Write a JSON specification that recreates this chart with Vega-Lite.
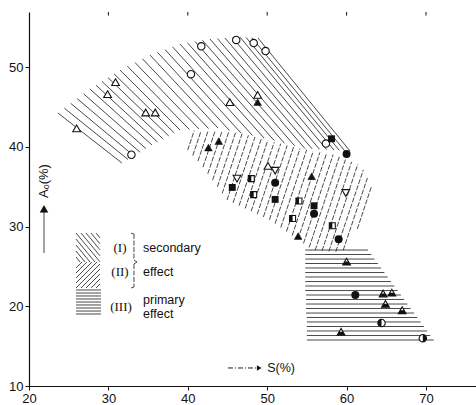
{
  "$schema": "https://vega.github.io/schema/vega-lite/v6.json",
  "width": 447,
  "height": 374,
  "autosize": {"type": "none"},
  "padding": {"left": 29, "top": 12, "right": 0, "bottom": 19},
  "background": "white",
  "config": {
    "view": {"stroke": null},
    "axis": {"grid": false, "domainColor": "#111", "tickColor": "#111", "labelColor": "#111", "labelFont": "Liberation Sans", "labelFontSize": 13}
  },
  "datasets": {
    "seg": [
      {"g": "I", "x1": 23.65, "y1": 44.23, "x2": 31.71, "y2": 37.96},
      {"g": "I", "x1": 24.46, "y1": 44.83, "x2": 32.47, "y2": 38.41},
      {"g": "I", "x1": 25.26, "y1": 45.44, "x2": 33.22, "y2": 38.86},
      {"g": "I", "x1": 26.07, "y1": 46.04, "x2": 33.98, "y2": 39.32},
      {"g": "I", "x1": 26.88, "y1": 46.64, "x2": 34.73, "y2": 39.77},
      {"g": "I", "x1": 27.68, "y1": 47.24, "x2": 35.49, "y2": 40.22},
      {"g": "I", "x1": 28.44, "y1": 47.72, "x2": 36.20, "y2": 40.59},
      {"g": "I", "x1": 29.19, "y1": 48.19, "x2": 36.90, "y2": 40.97},
      {"g": "I", "x1": 29.95, "y1": 48.67, "x2": 37.61, "y2": 41.35},
      {"g": "I", "x1": 30.70, "y1": 49.15, "x2": 38.31, "y2": 41.72},
      {"g": "I", "x1": 31.46, "y1": 49.62, "x2": 39.02, "y2": 42.10},
      {"g": "I", "x1": 32.41, "y1": 50.09, "x2": 40.21, "y2": 42.16},
      {"g": "I", "x1": 33.35, "y1": 50.56, "x2": 41.41, "y2": 42.23},
      {"g": "I", "x1": 34.29, "y1": 51.03, "x2": 42.61, "y2": 42.29},
      {"g": "I", "x1": 35.24, "y1": 51.50, "x2": 43.80, "y2": 42.35},
      {"g": "I", "x1": 36.18, "y1": 51.85, "x2": 45.25, "y2": 42.04},
      {"g": "I", "x1": 37.13, "y1": 52.19, "x2": 46.70, "y2": 41.72},
      {"g": "I", "x1": 38.07, "y1": 52.54, "x2": 48.15, "y2": 41.41},
      {"g": "I", "x1": 39.02, "y1": 52.88, "x2": 49.60, "y2": 41.10},
      {"g": "I", "x1": 39.96, "y1": 53.04, "x2": 50.89, "y2": 40.77},
      {"g": "I", "x1": 40.91, "y1": 53.20, "x2": 52.18, "y2": 40.44},
      {"g": "I", "x1": 41.85, "y1": 53.35, "x2": 53.47, "y2": 40.11},
      {"g": "I", "x1": 42.80, "y1": 53.51, "x2": 54.76, "y2": 39.78},
      {"g": "I", "x1": 43.74, "y1": 53.57, "x2": 55.67, "y2": 39.73},
      {"g": "I", "x1": 44.68, "y1": 53.64, "x2": 56.59, "y2": 39.69},
      {"g": "I", "x1": 45.63, "y1": 53.70, "x2": 57.50, "y2": 39.64},
      {"g": "I", "x1": 46.57, "y1": 53.76, "x2": 58.41, "y2": 39.59},
      {"g": "I", "x1": 47.33, "y1": 53.72, "x2": 59.08, "y2": 39.55},
      {"g": "I", "x1": 48.08, "y1": 53.67, "x2": 59.76, "y2": 39.50},
      {"g": "I", "x1": 48.84, "y1": 53.64, "x2": 60.43, "y2": 39.47},
      {"g": "II", "x1": 39.99, "y1": 39.59, "x2": 40.81, "y2": 42.02},
      {"g": "II", "x1": 40.63, "y1": 38.90, "x2": 41.67, "y2": 41.97},
      {"g": "II", "x1": 41.28, "y1": 38.21, "x2": 42.54, "y2": 41.94},
      {"g": "II", "x1": 41.91, "y1": 37.45, "x2": 43.41, "y2": 41.89},
      {"g": "II", "x1": 42.52, "y1": 36.62, "x2": 44.28, "y2": 41.84},
      {"g": "II", "x1": 43.12, "y1": 35.81, "x2": 45.14, "y2": 41.80},
      {"g": "II", "x1": 43.73, "y1": 34.98, "x2": 46.01, "y2": 41.75},
      {"g": "II", "x1": 44.33, "y1": 34.15, "x2": 46.84, "y2": 41.65},
      {"g": "II", "x1": 44.94, "y1": 33.32, "x2": 47.64, "y2": 41.45},
      {"g": "II", "x1": 45.70, "y1": 32.97, "x2": 48.46, "y2": 41.23},
      {"g": "II", "x1": 46.46, "y1": 32.62, "x2": 49.27, "y2": 41.02},
      {"g": "II", "x1": 47.23, "y1": 32.26, "x2": 50.07, "y2": 40.81},
      {"g": "II", "x1": 47.98, "y1": 31.91, "x2": 50.89, "y2": 40.58},
      {"g": "II", "x1": 48.75, "y1": 31.55, "x2": 51.70, "y2": 40.38},
      {"g": "II", "x1": 49.52, "y1": 31.20, "x2": 52.52, "y2": 40.17},
      {"g": "II", "x1": 50.28, "y1": 30.85, "x2": 53.32, "y2": 39.96},
      {"g": "II", "x1": 50.99, "y1": 30.36, "x2": 54.14, "y2": 39.77},
      {"g": "II", "x1": 51.71, "y1": 29.87, "x2": 54.97, "y2": 39.62},
      {"g": "II", "x1": 52.43, "y1": 29.37, "x2": 55.80, "y2": 39.45},
      {"g": "II", "x1": 53.15, "y1": 28.87, "x2": 56.64, "y2": 39.30},
      {"g": "II", "x1": 53.87, "y1": 28.38, "x2": 57.47, "y2": 39.15},
      {"g": "II", "x1": 54.57, "y1": 27.88, "x2": 58.30, "y2": 39.00},
      {"g": "II", "x1": 55.29, "y1": 27.38, "x2": 59.08, "y2": 38.74},
      {"g": "II", "x1": 56.04, "y1": 27.02, "x2": 59.86, "y2": 38.40},
      {"g": "II", "x1": 56.91, "y1": 26.95, "x2": 60.63, "y2": 38.11},
      {"g": "II", "x1": 57.77, "y1": 26.89, "x2": 61.41, "y2": 37.80},
      {"g": "II", "x1": 58.64, "y1": 26.84, "x2": 62.11, "y2": 37.11},
      {"g": "II", "x1": 59.58, "y1": 27.05, "x2": 62.62, "y2": 36.09},
      {"g": "II", "x1": 61.35, "y1": 29.69, "x2": 63.12, "y2": 34.98},
      {"g": "III", "x1": 54.8, "y1": 27.05, "x2": 62.69, "y2": 27.05},
      {"g": "III", "x1": 54.8, "y1": 26.49, "x2": 63.11, "y2": 26.49},
      {"g": "III", "x1": 54.8, "y1": 25.92, "x2": 63.52, "y2": 25.92},
      {"g": "III", "x1": 54.8, "y1": 25.36, "x2": 63.94, "y2": 25.36},
      {"g": "III", "x1": 54.8, "y1": 24.80, "x2": 64.34, "y2": 24.80},
      {"g": "III", "x1": 54.8, "y1": 24.23, "x2": 64.76, "y2": 24.23},
      {"g": "III", "x1": 54.8, "y1": 23.67, "x2": 65.17, "y2": 23.67},
      {"g": "III", "x1": 54.8, "y1": 23.10, "x2": 65.59, "y2": 23.10},
      {"g": "III", "x1": 54.8, "y1": 22.54, "x2": 66.01, "y2": 22.54},
      {"g": "III", "x1": 54.8, "y1": 21.97, "x2": 66.42, "y2": 21.97},
      {"g": "III", "x1": 54.9, "y1": 21.41, "x2": 66.84, "y2": 21.41},
      {"g": "III", "x1": 54.9, "y1": 20.85, "x2": 67.25, "y2": 20.85},
      {"g": "III", "x1": 54.9, "y1": 20.28, "x2": 67.66, "y2": 20.28},
      {"g": "III", "x1": 54.9, "y1": 19.72, "x2": 68.07, "y2": 19.72},
      {"g": "III", "x1": 54.9, "y1": 19.15, "x2": 68.49, "y2": 19.15},
      {"g": "III", "x1": 55.0, "y1": 18.59, "x2": 68.90, "y2": 18.59},
      {"g": "III", "x1": 55.0, "y1": 18.03, "x2": 69.32, "y2": 18.03},
      {"g": "III", "x1": 55.0, "y1": 17.46, "x2": 69.73, "y2": 17.46},
      {"g": "III", "x1": 55.0, "y1": 16.90, "x2": 70.15, "y2": 16.90},
      {"g": "III", "x1": 55.0, "y1": 16.33, "x2": 70.55, "y2": 16.33},
      {"g": "III", "x1": 55.0, "y1": 15.77, "x2": 70.97, "y2": 15.77},
      {"g": "L", "x1": 25.92, "y1": 29.18, "x2": 28.94, "y2": 25.57},
      {"g": "L", "x1": 26.55, "y1": 29.18, "x2": 28.94, "y2": 26.33},
      {"g": "L", "x1": 27.18, "y1": 29.18, "x2": 28.94, "y2": 27.08},
      {"g": "L", "x1": 27.81, "y1": 29.18, "x2": 28.94, "y2": 27.83},
      {"g": "L", "x1": 28.44, "y1": 29.18, "x2": 28.94, "y2": 28.58},
      {"g": "L", "x1": 25.92, "y1": 28.43, "x2": 28.31, "y2": 25.55},
      {"g": "L", "x1": 25.92, "y1": 27.68, "x2": 27.68, "y2": 25.55},
      {"g": "L", "x1": 25.92, "y1": 26.93, "x2": 27.05, "y2": 25.55},
      {"g": "L", "x1": 25.92, "y1": 26.18, "x2": 26.42, "y2": 25.55},
      {"g": "L", "x1": 25.92, "y1": 22.29, "x2": 28.94, "y2": 25.30},
      {"g": "L", "x1": 26.55, "y1": 22.29, "x2": 28.94, "y2": 24.67},
      {"g": "L", "x1": 27.18, "y1": 22.29, "x2": 28.94, "y2": 24.04},
      {"g": "L", "x1": 27.81, "y1": 22.29, "x2": 28.94, "y2": 23.42},
      {"g": "L", "x1": 28.44, "y1": 22.29, "x2": 28.94, "y2": 22.79},
      {"g": "L", "x1": 25.92, "y1": 22.92, "x2": 28.56, "y2": 25.55},
      {"g": "L", "x1": 25.92, "y1": 23.54, "x2": 27.93, "y2": 25.55},
      {"g": "L", "x1": 25.92, "y1": 24.17, "x2": 27.30, "y2": 25.55},
      {"g": "L", "x1": 25.92, "y1": 24.80, "x2": 26.67, "y2": 25.55},
      {"g": "L", "x1": 25.92, "y1": 22.04, "x2": 29.07, "y2": 22.04},
      {"g": "L", "x1": 25.92, "y1": 21.66, "x2": 29.07, "y2": 21.66},
      {"g": "L", "x1": 25.92, "y1": 21.29, "x2": 29.07, "y2": 21.29},
      {"g": "L", "x1": 25.92, "y1": 20.91, "x2": 29.07, "y2": 20.91},
      {"g": "L", "x1": 25.92, "y1": 20.53, "x2": 29.07, "y2": 20.53},
      {"g": "L", "x1": 25.92, "y1": 20.16, "x2": 29.07, "y2": 20.16},
      {"g": "L", "x1": 25.92, "y1": 19.78, "x2": 29.07, "y2": 19.78},
      {"g": "L", "x1": 25.92, "y1": 19.40, "x2": 29.07, "y2": 19.40},
      {"g": "L", "x1": 25.92, "y1": 19.03, "x2": 29.07, "y2": 19.03},
      {"g": "A", "x1": 21.89, "y1": 26.68, "x2": 21.89, "y2": 31.9},
      {"g": "B", "x1": 33.22, "y1": 29.06, "x2": 33.22, "y2": 25.80},
      {"g": "B", "x1": 33.22, "y1": 25.30, "x2": 33.22, "y2": 22.41},
      {"g": "B", "x1": 33.22, "y1": 25.80, "x2": 33.60, "y2": 25.55},
      {"g": "B", "x1": 33.60, "y1": 25.55, "x2": 33.22, "y2": 25.30},
      {"g": "B", "x1": 33.22, "y1": 29.06, "x2": 32.85, "y2": 29.18},
      {"g": "B", "x1": 33.22, "y1": 22.41, "x2": 32.85, "y2": 22.29},
      {"g": "S", "x1": 45.06, "y1": 12.26, "x2": 48.8, "y2": 12.26}
    ],
    "pts": [
      {"m": "oc", "x": 41.7, "y": 52.6},
      {"m": "oc", "x": 46.1, "y": 53.4},
      {"m": "oc", "x": 48.3, "y": 53.0},
      {"m": "oc", "x": 49.8, "y": 52.0},
      {"m": "oc", "x": 40.4, "y": 49.1},
      {"m": "oc", "x": 32.9, "y": 39.0},
      {"m": "oc", "x": 57.4, "y": 40.4},
      {"m": "ot", "x": 30.9, "y": 48.1},
      {"m": "ot", "x": 29.9, "y": 46.6},
      {"m": "ot", "x": 34.7, "y": 44.3},
      {"m": "ot", "x": 35.9, "y": 44.3},
      {"m": "ot", "x": 26.0, "y": 42.3},
      {"m": "ot", "x": 45.3, "y": 45.6},
      {"m": "ot", "x": 48.8, "y": 46.5},
      {"m": "ot", "x": 50.1, "y": 37.6},
      {"m": "od", "x": 46.2, "y": 36.0},
      {"m": "od", "x": 51.0, "y": 37.0},
      {"m": "od", "x": 59.9, "y": 34.2},
      {"m": "ft", "x": 48.8, "y": 45.6},
      {"m": "ft", "x": 42.6, "y": 39.9},
      {"m": "ft", "x": 43.9, "y": 40.7},
      {"m": "ft", "x": 55.6, "y": 36.3},
      {"m": "ft", "x": 53.9, "y": 28.8},
      {"m": "fs", "x": 58.1, "y": 41.0},
      {"m": "fs", "x": 51.0, "y": 33.4},
      {"m": "fs", "x": 55.9, "y": 32.6},
      {"m": "fs", "x": 45.6, "y": 34.9},
      {"m": "fc", "x": 60.0, "y": 39.1},
      {"m": "fc", "x": 51.0, "y": 35.5},
      {"m": "fc", "x": 55.9, "y": 31.6},
      {"m": "fc", "x": 59.0, "y": 28.4},
      {"m": "fc", "x": 61.1, "y": 21.4},
      {"m": "hs", "x": 48.0, "y": 36.0},
      {"m": "hs", "x": 48.3, "y": 34.0},
      {"m": "hs", "x": 54.0, "y": 33.2},
      {"m": "hs", "x": 53.2, "y": 31.0},
      {"m": "hs", "x": 58.2, "y": 30.1},
      {"m": "ht", "x": 60.0, "y": 25.6},
      {"m": "ht", "x": 64.6, "y": 21.6},
      {"m": "ht", "x": 65.7, "y": 21.7},
      {"m": "ht", "x": 64.9, "y": 20.3},
      {"m": "ht", "x": 67.0, "y": 19.5},
      {"m": "ht", "x": 59.3, "y": 16.8},
      {"m": "hcL", "x": 64.4, "y": 17.9},
      {"m": "hcR", "x": 69.6, "y": 16.0},
      {"m": "arrowUp", "x": 21.89, "y": 32.2},
      {"m": "arrowRight", "x": 49.0, "y": 12.26}
    ],
    "txt": [
      {"t": "(I)", "x": 31.46, "y": 27.30, "k": "c"},
      {"t": "(II)", "x": 31.46, "y": 24.29, "k": "c"},
      {"t": "(III)", "x": 31.59, "y": 19.91, "k": "c"},
      {"t": "secondary", "x": 34.36, "y": 27.30, "k": "l"},
      {"t": "effect", "x": 34.36, "y": 24.29, "k": "l"},
      {"t": "primary", "x": 34.36, "y": 20.78, "k": "l"},
      {"t": "effect", "x": 34.36, "y": 19.03, "k": "l"},
      {"t": "S(%)", "x": 50.0, "y": 12.26, "k": "l"},
      {"t": "Aₒ(%)", "x": 21.89, "y": 35.7, "k": "v"}
    ],
    "tt": [{"x": 30}, {"x": 40}, {"x": 50}, {"x": 60}, {"x": 70}]
  },
  "layer": [
    {
      "data": {"name": "seg"},
      "transform": [{"filter": "datum.g === 'I' || datum.g === 'III' || datum.g === 'L' || datum.g === 'A'"}],
      "mark": {"type": "rule", "stroke": "#1a1a1a", "strokeWidth": 0.8},
      "encoding": {
        "x": {"field": "x1", "type": "quantitative", "title": null, "scale": {"domain": [20, 76.3], "nice": false, "zero": false},
              "axis": {"values": [20, 30, 40, 50, 60, 70], "tickSize": 4, "labelPadding": 2, "domainWidth": 1.2, "labelFlush": false, "labelOverlap": false}},
        "y": {"field": "y1", "type": "quantitative", "title": null, "scale": {"domain": [10, 56.9], "nice": false, "zero": false},
              "axis": {"values": [10, 20, 30, 40, 50], "tickSize": 4, "labelPadding": 2, "domainWidth": 1.2, "labelFlush": false, "labelOverlap": false}},
        "x2": {"field": "x2"},
        "y2": {"field": "y2"}
      }
    },
    {
      "data": {"name": "seg"},
      "transform": [{"filter": "datum.g === 'II' || datum.g === 'B'"}],
      "mark": {"type": "rule", "stroke": "#1a1a1a", "strokeWidth": 0.8, "strokeDash": [5, 1.5]},
      "encoding": {
        "x": {"field": "x1", "type": "quantitative", "title": null},
        "y": {"field": "y1", "type": "quantitative", "title": null},
        "x2": {"field": "x2"},
        "y2": {"field": "y2"}
      }
    },
    {
      "data": {"name": "seg"},
      "transform": [{"filter": "datum.g === 'S'"}],
      "mark": {"type": "rule", "stroke": "#1a1a1a", "strokeWidth": 1, "strokeDash": [5, 2, 1, 2]},
      "encoding": {
        "x": {"field": "x1", "type": "quantitative", "title": null},
        "y": {"field": "y1", "type": "quantitative", "title": null},
        "x2": {"field": "x2"},
        "y2": {"field": "y2"}
      }
    },
    {
      "mark": {"type": "rule", "stroke": "#111", "strokeWidth": 1.2},
      "encoding": {"y": {"datum": 56.9, "type": "quantitative"}}
    },
    {
      "data": {"name": "tt"},
      "mark": {"type": "rule", "stroke": "#111", "strokeWidth": 1},
      "encoding": {
        "x": {"field": "x", "type": "quantitative", "title": null},
        "y": {"datum": 56.9, "type": "quantitative"},
        "y2": {"datum": 56.45}
      }
    },
    {
      "data": {"name": "pts"},
      "transform": [{"filter": "datum.m === 'oc' || datum.m === 'hcL' || datum.m === 'hcR'"}],
      "mark": {"type": "point", "shape": "circle", "filled": true, "fill": "white", "stroke": "#111", "strokeWidth": 1.1, "size": 55, "opacity": 1},
      "encoding": {"x": {"field": "x", "type": "quantitative", "title": null}, "y": {"field": "y", "type": "quantitative", "title": null}}
    },
    {
      "data": {"name": "pts"},
      "transform": [{"filter": "datum.m === 'ot' || datum.m === 'ht'"}],
      "mark": {"type": "point", "shape": "triangle-up", "filled": true, "fill": "white", "stroke": "#111", "strokeWidth": 1.1, "size": 60, "opacity": 1},
      "encoding": {"x": {"field": "x", "type": "quantitative", "title": null}, "y": {"field": "y", "type": "quantitative", "title": null}}
    },
    {
      "data": {"name": "pts"},
      "transform": [{"filter": "datum.m === 'od'"}],
      "mark": {"type": "point", "shape": "triangle-down", "filled": true, "fill": "white", "stroke": "#111", "strokeWidth": 1.1, "size": 60, "opacity": 1},
      "encoding": {"x": {"field": "x", "type": "quantitative", "title": null}, "y": {"field": "y", "type": "quantitative", "title": null}}
    },
    {
      "data": {"name": "pts"},
      "transform": [{"filter": "datum.m === 'hs'"}],
      "mark": {"type": "point", "shape": "square", "filled": true, "fill": "white", "stroke": "#111", "strokeWidth": 1.1, "size": 36, "opacity": 1},
      "encoding": {"x": {"field": "x", "type": "quantitative", "title": null}, "y": {"field": "y", "type": "quantitative", "title": null}}
    },
    {
      "data": {"name": "pts"},
      "transform": [{"filter": "datum.m === 'ft' || datum.m === 'arrowUp'"}],
      "mark": {"type": "point", "shape": "triangle-up", "filled": true, "fill": "#111", "stroke": "#111", "strokeWidth": 0.5, "size": 60, "opacity": 1},
      "encoding": {"x": {"field": "x", "type": "quantitative", "title": null}, "y": {"field": "y", "type": "quantitative", "title": null}}
    },
    {
      "data": {"name": "pts"},
      "transform": [{"filter": "datum.m === 'arrowRight'"}],
      "mark": {"type": "point", "shape": "triangle-right", "filled": true, "fill": "#111", "size": 30, "opacity": 1},
      "encoding": {"x": {"field": "x", "type": "quantitative", "title": null}, "y": {"field": "y", "type": "quantitative", "title": null}}
    },
    {
      "data": {"name": "pts"},
      "transform": [{"filter": "datum.m === 'fs'"}],
      "mark": {"type": "point", "shape": "square", "filled": true, "fill": "#111", "size": 48, "opacity": 1},
      "encoding": {"x": {"field": "x", "type": "quantitative", "title": null}, "y": {"field": "y", "type": "quantitative", "title": null}}
    },
    {
      "data": {"name": "pts"},
      "transform": [{"filter": "datum.m === 'fc'"}],
      "mark": {"type": "point", "shape": "circle", "filled": true, "fill": "#111", "size": 64, "opacity": 1},
      "encoding": {"x": {"field": "x", "type": "quantitative", "title": null}, "y": {"field": "y", "type": "quantitative", "title": null}}
    },
    {
      "data": {"name": "pts"},
      "transform": [{"filter": "datum.m === 'hs'"}],
      "mark": {"type": "point", "shape": "M-1,-1L0,-1L0,1L-1,1Z", "filled": true, "fill": "#111", "size": 36, "opacity": 1},
      "encoding": {"x": {"field": "x", "type": "quantitative", "title": null}, "y": {"field": "y", "type": "quantitative", "title": null}}
    },
    {
      "data": {"name": "pts"},
      "transform": [{"filter": "datum.m === 'ht'"}],
      "mark": {"type": "point", "shape": "M-0.5,0L0.5,0L1,0.866L-1,0.866Z", "filled": true, "fill": "#111", "size": 60, "opacity": 1},
      "encoding": {"x": {"field": "x", "type": "quantitative", "title": null}, "y": {"field": "y", "type": "quantitative", "title": null}}
    },
    {
      "data": {"name": "pts"},
      "transform": [{"filter": "datum.m === 'hcL'"}],
      "mark": {"type": "point", "shape": "M0,-1A1,1 0 0,0 0,1Z", "filled": true, "fill": "#111", "size": 55, "opacity": 1},
      "encoding": {"x": {"field": "x", "type": "quantitative", "title": null}, "y": {"field": "y", "type": "quantitative", "title": null}}
    },
    {
      "data": {"name": "pts"},
      "transform": [{"filter": "datum.m === 'hcR'"}],
      "mark": {"type": "point", "shape": "M0,-1A1,1 0 0,1 0,1Z", "filled": true, "fill": "#111", "size": 55, "opacity": 1},
      "encoding": {"x": {"field": "x", "type": "quantitative", "title": null}, "y": {"field": "y", "type": "quantitative", "title": null}}
    },
    {
      "data": {"name": "txt"},
      "transform": [{"filter": "datum.k === 'c'"}],
      "mark": {"type": "text", "font": "Liberation Serif", "fontSize": 13, "color": "#111", "align": "center", "baseline": "middle"},
      "encoding": {"x": {"field": "x", "type": "quantitative", "title": null}, "y": {"field": "y", "type": "quantitative", "title": null}, "text": {"field": "t"}}
    },
    {
      "data": {"name": "txt"},
      "transform": [{"filter": "datum.k === 'l'"}],
      "mark": {"type": "text", "font": "Liberation Sans", "fontSize": 12.5, "color": "#111", "align": "left", "baseline": "middle"},
      "encoding": {"x": {"field": "x", "type": "quantitative", "title": null}, "y": {"field": "y", "type": "quantitative", "title": null}, "text": {"field": "t"}}
    },
    {
      "data": {"name": "txt"},
      "transform": [{"filter": "datum.k === 'v'"}],
      "mark": {"type": "text", "font": "Liberation Sans", "fontSize": 13, "color": "#111", "align": "center", "baseline": "middle", "angle": 270},
      "encoding": {"x": {"field": "x", "type": "quantitative", "title": null}, "y": {"field": "y", "type": "quantitative", "title": null}, "text": {"field": "t"}}
    }
  ]
}
